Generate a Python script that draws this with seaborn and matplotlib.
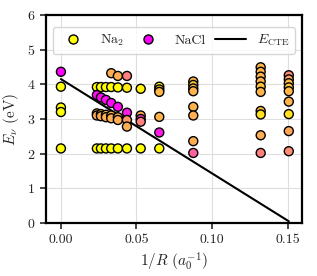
import numpy as np
import matplotlib
matplotlib.use("Agg")
import matplotlib.pyplot as plt
import seaborn as sns
import pandas as pd
from matplotlib.lines import Line2D

# =========================
# DATA
# =========================
inv_R = [
    0.0, 0.0, 0.0, 0.0, 0.0,
    0.0238, 0.0238, 0.0238, 0.0238, 0.0238,
    0.0265, 0.0265, 0.0265, 0.0265, 0.0265,
    0.0298, 0.0298, 0.0298, 0.0298, 0.0298,
    0.0333, 0.0333, 0.0333, 0.0333, 0.0333, 0.0333,
    0.0377, 0.0377, 0.0377, 0.0377, 0.0377, 0.0377,
    0.0437, 0.0437, 0.0437, 0.0437, 0.0437, 0.0437,
    0.0528, 0.0528, 0.0528, 0.0528, 0.0528,
    0.0651, 0.0651, 0.0651, 0.0651, 0.0651, 0.0651,
    0.0876, 0.0876, 0.0876, 0.0876, 0.0876, 0.0876, 0.0876, 0.0876,
    0.1322, 0.1322, 0.1322, 0.1322, 0.1322, 0.1322, 0.1322, 0.1322, 0.1322, 0.1322,
    0.1508, 0.1508, 0.1508, 0.1508, 0.1508, 0.1508, 0.1508, 0.1508, 0.1508,
]
energy = [
    4.36, 3.93, 3.33, 3.20, 2.15,
    3.92, 3.69, 3.16, 3.10, 2.15,
    3.92, 3.62, 3.14, 3.08, 2.15,
    3.92, 3.55, 3.12, 3.05, 2.15,
    4.32, 3.92, 3.46, 3.10, 3.02, 2.15,
    4.24, 3.91, 3.35, 3.05, 2.97, 2.15,
    4.24, 3.90, 3.18, 2.97, 2.78, 2.15,
    3.87, 3.10, 3.00, 2.92, 2.15,
    3.93, 3.85, 3.78, 3.06, 2.61, 2.15,
    4.08, 3.98, 3.88, 3.80, 3.35, 3.10, 2.36, 2.02,
    4.49, 4.36, 4.22, 4.08, 3.93, 3.78, 3.23, 3.13, 2.53, 2.02,
    4.26, 4.14, 4.03, 3.91, 3.80, 3.50, 3.14, 2.65, 2.07,
]
# Na2 character of each state (1 = Na2, 0 = NaCl)
na2_weight = [
    0.0, 1.0, 1.0, 1.0, 1.0,
    1.0, 0.05, 0.72, 0.68, 1.0,
    1.0, 0.05, 0.72, 0.68, 1.0,
    1.0, 0.05, 0.72, 0.68, 1.0,
    0.68, 1.0, 0.03, 0.72, 0.68, 1.0,
    0.68, 1.0, 0.05, 0.7, 0.68, 1.0,
    0.5, 0.92, 0.1, 0.6, 0.68, 1.0,
    0.95, 0.7, 0.25, 0.5, 1.0,
    0.95, 0.78, 0.72, 0.7, 0.1, 1.0,
    0.7, 0.76, 0.72, 0.7, 0.7, 0.68, 0.68, 0.38,
    0.72, 0.7, 0.7, 0.7, 0.75, 0.7, 0.72, 0.88, 0.68, 0.5,
    0.55, 0.65, 0.72, 0.76, 0.72, 0.7, 0.88, 0.65, 0.55,
]

# charge-transfer energy line (endpoints)
cte_x = [0.0, 0.1508]
cte_y = [4.15, 0.05]

df = pd.DataFrame({"inv_R": inv_R, "E": energy, "w": na2_weight})

# =========================
# STYLE
# =========================
sns.set_style("ticks")
plt.rcParams["font.family"] = "serif"
plt.rcParams["font.serif"] = ["cmr10", "DejaVu Serif"]
plt.rcParams["mathtext.fontset"] = "cm"
plt.rcParams["axes.formatter.use_mathtext"] = True
plt.rcParams["font.size"] = 10

fig = plt.figure(figsize=(3.17, 2.76), dpi=100)
ax = fig.add_axes([0.144, 0.192, 0.808, 0.754])

ax.grid(True, color="#dedede", linewidth=0.8, zorder=0)
ax.set_axisbelow(True)

sns.lineplot(x=cte_x, y=cte_y, color="black", linewidth=1.5, ax=ax, zorder=2)
sns.scatterplot(
    data=df, x="inv_R", y="E", hue="w", palette="spring", hue_norm=(0, 1),
    s=42, edgecolor="black", linewidth=1.0, legend=False, ax=ax, zorder=3
)

ax.set_xlim(-0.0101, 0.1594)
ax.set_ylim(0, 6)
ax.set_xticks([0.0, 0.05, 0.10, 0.15])
ax.set_xticklabels(["0.00", "0.05", "0.10", "0.15"])
ax.set_yticks([0, 1, 2, 3, 4, 5, 6])
ax.set_xlabel(r"$1/R$ $(a_0^{-1})$", fontsize=11)
ax.set_ylabel(r"$E_\nu$ (eV)", fontsize=11)
for sp in ax.spines.values():
    sp.set_linewidth(1.6)
    sp.set_color("black")
ax.tick_params(direction="out", length=4, width=1.2, labelsize=10)

cmap = plt.get_cmap("spring")
handles = [
    Line2D([], [], marker="o", linestyle="", markerfacecolor=cmap(1.0),
           markeredgecolor="black", markersize=6.5, label=r"Na$_2$"),
    Line2D([], [], marker="o", linestyle="", markerfacecolor=cmap(0.0),
           markeredgecolor="black", markersize=6.5, label="NaCl"),
    Line2D([], [], color="black", linewidth=1.5, label=r"$E_{\rm CTE}$"),
]
ax.legend(handles=handles, loc="upper center", ncol=3, frameon=True,
          bbox_to_anchor=(0.0, 0.0, 1.0, 0.975), mode="expand",
          handlelength=2.2, columnspacing=1.0, fontsize=10, borderpad=0.4)

plt.savefig("out.png", dpi=100)
